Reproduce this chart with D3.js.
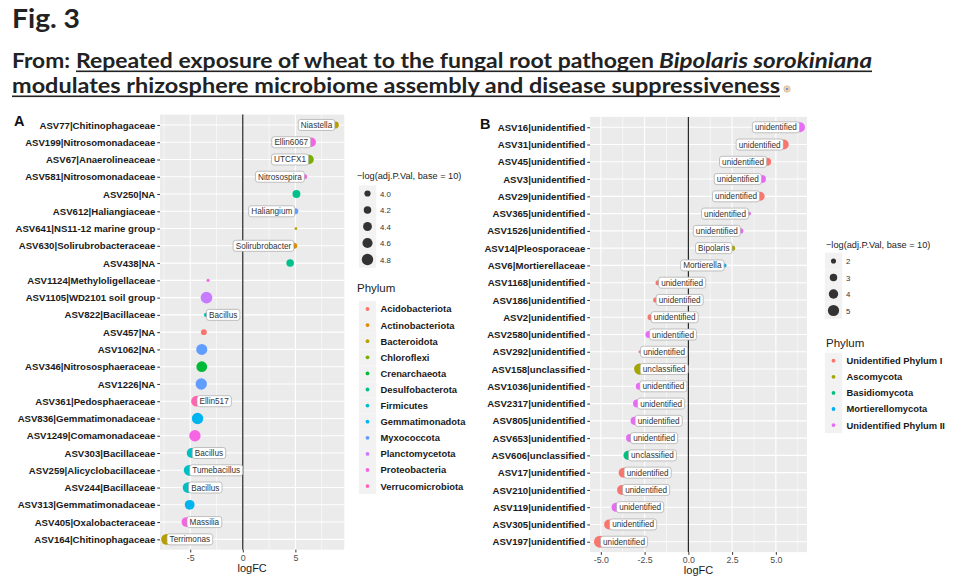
<!DOCTYPE html>
<html><head><meta charset="utf-8">
<script src="https://cdn.jsdelivr.net/npm/d3@7"></script>
<style>body{margin:0;background:#fff}text{font-family:"Liberation Sans",Arial,sans-serif}</style>
</head><body><svg id="c" width="965" height="588"></svg>
<script>
// ---------------- DATA ----------------
const categoriesA = ["ASV77|Chitinophagaceae","ASV199|Nitrosomonadaceae","ASV67|Anaerolineaceae","ASV581|Nitrosomonadaceae","ASV250|NA","ASV612|Haliangiaceae","ASV641|NS11-12 marine group","ASV630|Solirubrobacteraceae","ASV438|NA","ASV1124|Methyloligellaceae","ASV1105|WD2101 soil group","ASV822|Bacillaceae","ASV457|NA","ASV1062|NA","ASV346|Nitrososphaeraceae","ASV1226|NA","ASV361|Pedosphaeraceae","ASV836|Gemmatimonadaceae","ASV1249|Comamonadaceae","ASV303|Bacillaceae","ASV259|Alicyclobacillaceae","ASV244|Bacillaceae","ASV313|Gemmatimonadaceae","ASV405|Oxalobacteraceae","ASV164|Chitinophagaceae"];
const logFCA = [8.8,6.5,6.3,5.9,5.1,5.0,5.05,4.9,4.5,-3.3,-3.45,-3.5,-3.7,-3.9,-3.9,-3.95,-4.4,-4.3,-4.55,-4.85,-5.1,-5.2,-5.05,-5.35,-7.25];
const pvalA = [4.1,4.5,4.5,3.8,4.25,3.95,3.5,3.95,4.2,3.55,4.85,3.7,3.95,4.75,4.7,4.8,4.7,4.8,4.8,4.6,4.7,4.7,4.55,4.55,4.7];
const phylumOfA = ["Bacteroidota","Proteobacteria","Chloroflexi","Proteobacteria","Desulfobacterota","Myxococcota","Bacteroidota","Actinobacteriota","Desulfobacterota","Proteobacteria","Planctomycetota","Firmicutes","Acidobacteriota","Myxococcota","Crenarchaeota","Myxococcota","Verrucomicrobiota","Gemmatimonadota","Proteobacteria","Firmicutes","Firmicutes","Firmicutes","Gemmatimonadota","Proteobacteria","Bacteroidota"];
const genusA = ["Niastella","Ellin6067","UTCFX1","Nitrosospira","","Haliangium","","Solirubrobacter","","","","Bacillus","","","","","Ellin517","","","Bacillus","Tumebacillus","Bacillus","","Massilia","Terrimonas"];
const phylaA = ["Acidobacteriota","Actinobacteriota","Bacteroidota","Chloroflexi","Crenarchaeota","Desulfobacterota","Firmicutes","Gemmatimonadota","Myxococcota","Planctomycetota","Proteobacteria","Verrucomicrobiota"];
const colorsA = ["#F8766D","#DE8C00","#B79F00","#7CAE00","#00BA38","#00C08B","#00BFC4","#00B4F0","#619CFF","#C77CFF","#F564E3","#FF64B0"];
const sizeBreaksA = [4.0,4.2,4.4,4.6,4.8];
const xTicksA = [-5,0,5];
const xMinorA = [-7.5,-2.5,2.5,7.5];
const xDomainA = [-7.87,9.65];
const sizeDomainA = [3.4,4.9];

const categoriesB = ["ASV16|unidentified","ASV31|unidentified","ASV45|unidentified","ASV3|unidentified","ASV29|unidentified","ASV365|unidentified","ASV1526|unidentified","ASV14|Pleosporaceae","ASV6|Mortierellaceae","ASV1168|unidentified","ASV186|unidentified","ASV2|unidentified","ASV2580|unidentified","ASV292|unidentified","ASV158|unclassified","ASV1036|unidentified","ASV2317|unidentified","ASV805|unidentified","ASV653|unidentified","ASV606|unclassified","ASV17|unidentified","ASV210|unidentified","ASV119|unidentified","ASV305|unidentified","ASV197|unidentified"];
const logFCB = [6.38,5.45,4.5,4.2,4.1,3.47,3.0,2.53,2.07,-1.73,-1.87,-2.16,-2.25,-2.76,-2.78,-2.8,-2.93,-3.07,-3.33,-3.45,-3.7,-3.79,-4.13,-4.53,-5.05];
const pvalB = [4.3,4.3,3.3,3.3,3.8,1.6,2.0,2.0,1.6,2.0,2.0,2.4,2.8,1.3,5.0,2.8,3.3,3.3,3.3,3.8,4.3,4.3,3.8,4.3,5.5];
const phylumOfB = ["Unidentified Phylum II","Unidentified Phylum I","Unidentified Phylum I","Unidentified Phylum II","Unidentified Phylum I","Unidentified Phylum II","Unidentified Phylum II","Ascomycota","Mortierellomycota","Unidentified Phylum I","Unidentified Phylum I","Unidentified Phylum I","Unidentified Phylum II","Unidentified Phylum I","Ascomycota","Unidentified Phylum II","Unidentified Phylum II","Unidentified Phylum II","Unidentified Phylum II","Basidiomycota","Unidentified Phylum I","Unidentified Phylum I","Unidentified Phylum II","Unidentified Phylum I","Unidentified Phylum I"];
const genusB = ["unidentified","unidentified","unidentified","unidentified","unidentified","unidentified","unidentified","Bipolaris","Mortierella","unidentified","unidentified","unidentified","unidentified","unidentified","unclassified","unidentified","unidentified","unidentified","unidentified","unclassified","unidentified","unidentified","unidentified","unidentified","unidentified"];
const phylaB = ["Unidentified Phylum I","Ascomycota","Basidiomycota","Mortierellomycota","Unidentified Phylum II"];
const colorsB = ["#F8766D","#A3A500","#00BF7D","#00B0F6","#E76BF3"];
const sizeBreaksB = [2,3,4,5];
const xTicksB = [-5,-2.5,0,2.5,5];
const xMinorB = [-3.75,-1.25,1.25,3.75,6.25];
const xDomainB = [-5.62,6.78];
const sizeDomainB = [1.0,5.5];

const sizeLegendTitle = "\u2212log(adj.P.Val, base = 10)";

// ---------------- DRAW ----------------
const svg = d3.select("#c");
svg.append("rect").attr("width",965).attr("height",588).attr("fill","#fff");

// Header
const hdr = svg.append("g").attr("fill","#222").style("font-family","Lato, 'Open Sans', sans-serif").style("font-weight","bold");
function htext(str, x, y, size, w, italic){
  const t = hdr.append("text").attr("x",x).attr("y",y).attr("font-size",size)
    .style("font-family","Lato, 'Open Sans', sans-serif").text(str);
  if (italic) t.attr("font-style","italic");
  if (w) t.attr("textLength",w).attr("lengthAdjust","spacingAndGlyphs");
  return t;
}
htext("Fig. 3", 12, 28, 27, 68);
htext("From:", 12, 68, 21, 58);
htext("Repeated exposure of wheat to the fungal root pathogen", 76, 68, 21, 578);
htext("Bipolaris sorokiniana", 659, 68, 21, 213, true);
htext("modulates rhizosphere microbiome assembly and disease suppressiveness", 12, 93, 21, 768);
hdr.append("rect").attr("x",76).attr("y",70.5).attr("width",796).attr("height",1.6);
hdr.append("rect").attr("x",12).attr("y",95.5).attr("width",768).attr("height",1.6);
svg.append("circle").attr("cx",787).attr("cy",89).attr("r",3.2).attr("fill","#f4d9b8").attr("stroke","#c9a27a").attr("stroke-width",0.6);
svg.append("circle").attr("cx",787).attr("cy",89).attr("r",1.3).attr("fill","#6f9bd1");

function panel(cfg){
  const g = svg.append("g");
  const x = d3.scaleLinear().domain(cfg.xDomain).range([cfg.left, cfg.right]);
  const y = d3.scalePoint().domain(cfg.cats).range([cfg.top, cfg.bottom]).padding(0.6);
  const r = d3.scaleSqrt().domain(cfg.sizeDomain).range([1,6]);
  const col = d3.scaleOrdinal().domain(cfg.phyla).range(cfg.colors);

  g.append("rect").attr("x",cfg.left).attr("y",cfg.top).attr("width",cfg.right-cfg.left).attr("height",cfg.bottom-cfg.top).attr("fill","#EBEBEB");
  g.selectAll(".minor").data(cfg.minor).join("line")
    .attr("x1",d=>x(d)).attr("x2",d=>x(d)).attr("y1",cfg.top).attr("y2",cfg.bottom)
    .attr("stroke","#fff").attr("stroke-width",0.55);
  g.selectAll(".major").data(cfg.ticks).join("line")
    .attr("x1",d=>x(d)).attr("x2",d=>x(d)).attr("y1",cfg.top).attr("y2",cfg.bottom)
    .attr("stroke","#fff").attr("stroke-width",1.1);
  g.selectAll(".hmaj").data(cfg.cats).join("line")
    .attr("x1",cfg.left).attr("x2",cfg.right).attr("y1",d=>y(d)).attr("y2",d=>y(d))
    .attr("stroke","#fff").attr("stroke-width",1.1);
  g.append("line").attr("x1",x(0)).attr("x2",x(0)).attr("y1",cfg.top).attr("y2",cfg.bottom)
    .attr("stroke","#111").attr("stroke-width",1.1);

  const rows = cfg.cats.map((c,i)=>({c, v:cfg.vals[i], p:cfg.pvals[i], ph:cfg.phylumOf[i], lab:cfg.labels[i]}));
  g.selectAll(".pt").data(rows).join("circle")
    .attr("cx",d=>x(d.v)).attr("cy",d=>y(d.c)).attr("r",d=>r(d.p)).attr("fill",d=>col(d.ph));

  // labels
  rows.filter(d=>d.lab).forEach(d=>{
    const lg = g.append("g");
    const t = lg.append("text").attr("font-size",8.2).attr("fill","#333").text(d.lab);
    const w = t.node().getComputedTextLength();
    const pad = 2.6, bw = w + 2*pad, bh = 11;
    const bx = d.v > 0 ? x(d.v) - bw - 0.5 : x(d.v) + 0.5;
    const by = y(d.c) - bh/2;
    lg.insert("rect","text").attr("x",bx).attr("y",by).attr("width",bw).attr("height",bh)
      .attr("rx",2.5).attr("fill","#fff").attr("stroke","#A8A8A8").attr("stroke-width",0.7);
    t.attr("x",bx+pad).attr("y",by+bh/2+3);
  });

  // axes
  const xa = g.append("g").attr("transform",`translate(0,${cfg.bottom})`)
    .call(d3.axisBottom(x).tickValues(cfg.ticks).tickSize(2.75).tickPadding(2).tickFormat(cfg.fmt));
  xa.select(".domain").remove();
  xa.selectAll("line").attr("stroke","#333");
  xa.selectAll("text").attr("fill","#4D4D4D").attr("font-size",8.8).style("font-family","'Liberation Sans',Arial,sans-serif");
  const ya = g.append("g").attr("transform",`translate(${cfg.left},0)`)
    .call(d3.axisLeft(y).tickSize(2.75).tickPadding(2));
  ya.select(".domain").remove();
  ya.selectAll("line").attr("stroke","#333");
  ya.selectAll("text").attr("fill","#1a1a1a").attr("font-size",9.6).attr("font-weight","bold").style("font-family","'Liberation Sans',Arial,sans-serif");
  g.append("text").attr("x",(cfg.left+cfg.right)/2).attr("y",cfg.bottom+22).attr("text-anchor","middle")
    .attr("font-size",11).attr("fill","#1a1a1a").text("logFC");
  g.append("text").attr("x",cfg.tagX).attr("y",cfg.tagY).attr("font-size",14.5).attr("font-weight","bold").attr("fill","#111").text(cfg.tag);

  // legends
  const L = cfg.legend;
  g.append("text").attr("x",L.x).attr("y",L.sizeTitleY).attr("font-size",9.2).attr("fill","#222").text(sizeLegendTitle);
  const sg = g.selectAll(".sk").data(cfg.sizeBreaks).join("g")
    .attr("transform",(d,i)=>`translate(0,${L.sizeY0 + i*16.5})`);
  sg.append("rect").attr("x",L.keyX-8.6).attr("y",-8.25).attr("width",17.3).attr("height",16.5).attr("fill","#F2F2F2");
  sg.append("circle").attr("cx",L.keyX).attr("cy",0).attr("r",d=>r(d)).attr("fill","#333");
  sg.append("text").attr("x",L.keyX+12.5).attr("y",3).attr("font-size",7.8).attr("fill","#333").text(d=>cfg.sizeFmt(d));

  g.append("text").attr("x",L.x).attr("y",L.phTitleY).attr("font-size",11.5).attr("fill","#222").text("Phylum");
  const pg = g.selectAll(".pk").data(cfg.phyla).join("g")
    .attr("transform",(d,i)=>`translate(0,${L.phY0 + i*16.1})`);
  pg.append("rect").attr("x",L.keyX-8.6).attr("y",-8.05).attr("width",17.3).attr("height",16.1).attr("fill","#F2F2F2");
  pg.append("circle").attr("cx",L.keyX).attr("cy",0).attr("r",1.9).attr("fill",d=>col(d));
  pg.append("text").attr("x",L.keyX+13).attr("y",3.4).attr("font-size",9.4).attr("font-weight","bold").attr("fill","#1a1a1a").text(d=>d);
}

panel({
  cats:categoriesA, vals:logFCA, pvals:pvalA, phylumOf:phylumOfA, labels:genusA,
  phyla:phylaA, colors:colorsA, sizeBreaks:sizeBreaksA, ticks:xTicksA, minor:xMinorA,
  xDomain:xDomainA, sizeDomain:sizeDomainA,
  left:160, right:344.3, top:114.6, bottom:549.7,
  fmt:d=>String(d), sizeFmt:d=>d.toFixed(1), tag:"A", tagX:14, tagY:126,
  legend:{x:357, keyX:367.5, sizeTitleY:179, sizeY0:193.5, phTitleY:292, phY0:309}
});
panel({
  cats:categoriesB, vals:logFCB, pvals:pvalB, phylumOf:phylumOfB, labels:genusB,
  phyla:phylaB, colors:colorsB, sizeBreaks:sizeBreaksB, ticks:xTicksB, minor:xMinorB,
  xDomain:xDomainB, sizeDomain:sizeDomainB,
  left:590, right:807, top:116.9, bottom:552.1,
  fmt:d=>d.toFixed(1), sizeFmt:d=>String(d), tag:"B", tagX:480, tagY:129,
  legend:{x:826, keyX:833.5, sizeTitleY:248, sizeY0:261, phTitleY:347, phY0:360.7}
});
</script></body></html>
